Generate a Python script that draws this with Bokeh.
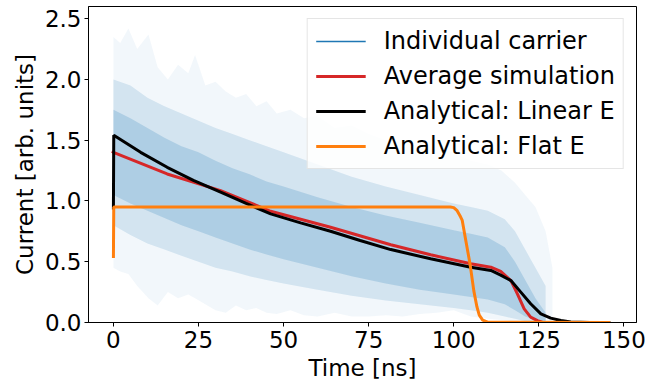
from bokeh.plotting import figure
from bokeh.models import Legend, LegendItem, Range1d, FixedTicker, NumeralTickFormatter
from bokeh.embed import file_html
from bokeh.resources import INLINE

# ---------------- data ----------------
# Spread of the individual carrier traces (envelopes)
cloud_t = [0, 2, 4.4, 7, 10.3, 13, 16, 19, 22, 24, 27, 30, 33, 36, 39, 42, 45, 48, 52,
           56, 60, 65, 70, 75, 80, 85, 90, 95, 100, 105, 110, 114, 118, 121, 124, 127, 129]
outer_hi = [2.35, 2.3, 2.42, 2.25, 2.37, 2.1, 2.0, 2.12, 2.05, 2.2, 1.95, 1.98, 1.9, 1.85, 1.88, 1.78, 1.82,
            1.72, 1.75, 1.68, 1.7, 1.6, 1.62, 1.55, 1.5, 1.48, 1.45, 1.42, 1.4, 1.33, 1.3, 1.25, 1.15,
            1.05, 0.95, 0.75, 0.45]
outer_lo = [0.45, 0.42, 0.4, 0.3, 0.2, 0.14, 0.25, 0.2, 0.23, 0.2, 0.15, 0.1, 0.08, 0.14, 0.1, 0.12, 0.08,
            0.07, 0.1, 0.06, 0.05, 0.08, 0.05, 0.05, 0.06, 0.05, 0.07, 0.08, 0.1, 0.05, 0.03, 0.02,
            0.01, 0.0, 0.0, 0.0, 0.0]
mid_t = [0, 5, 10, 15, 20, 25, 30, 35, 40, 45, 50, 60, 70, 80, 90, 100, 105, 110, 115, 118, 121, 124, 127]
mid_hi = [2.0, 1.95, 1.85, 1.78, 1.72, 1.66, 1.6, 1.55, 1.5, 1.45, 1.4, 1.3, 1.2, 1.12, 1.05, 0.98,
          0.95, 0.92, 0.85, 0.75, 0.6, 0.45, 0.3]
mid_lo = [0.8, 0.72, 0.65, 0.6, 0.55, 0.5, 0.45, 0.42, 0.38, 0.35, 0.32, 0.27, 0.22, 0.18, 0.15, 0.12,
          0.1, 0.08, 0.05, 0.03, 0.01, 0.0, 0.0]
core_hi = [1.75, 1.68, 1.6, 1.52, 1.45, 1.4, 1.33, 1.27, 1.22, 1.16, 1.12, 1.03, 0.95, 0.88, 0.82,
           0.76, 0.73, 0.7, 0.62, 0.5, 0.35, 0.2, 0.08]
core_lo = [1.05, 0.98, 0.92, 0.86, 0.8, 0.75, 0.7, 0.65, 0.6, 0.56, 0.52, 0.45, 0.38, 0.32, 0.27,
           0.23, 0.21, 0.19, 0.15, 0.1, 0.05, 0.02, 0.0]

# Average simulation
avg_t = [-0.4, 0, 15.8, 31.5, 46.2, 63.8, 81.5, 93.2, 105, 110.9, 113.8, 116.8, 118.7, 120.7,
         122.6, 124.6, 126, 128]
avg_i = [1.41, 1.40, 1.222, 1.085, 0.915, 0.784, 0.64, 0.557, 0.483, 0.455, 0.42, 0.345, 0.236,
         0.112, 0.044, 0.016, 0.003, 0.0]

# Analytical: Linear E
lin_t = [0, 0.1, 8, 15.8, 23.5, 31.5, 39, 46.2, 55, 63.8, 72.5, 81.5, 93.2, 105, 110.9, 113.8,
         116.8, 119.7, 122.6, 125.6, 128.5, 131.5, 134.4, 140, 146]
lin_i = [0.93, 1.54, 1.40, 1.277, 1.17, 1.072, 0.98, 0.894, 0.82, 0.751, 0.675, 0.60, 0.524, 0.455,
         0.428, 0.39, 0.345, 0.25, 0.154, 0.071, 0.036, 0.016, 0.005, 0.001, 0.0]

# Analytical: Flat E
flat_t = [0, 0.1, 99, 100, 101, 102, 102.5, 103.5, 104.8, 105.9, 106.8, 107.5, 108.5, 110, 146]
flat_i = [0.53, 0.95, 0.95, 0.945, 0.92, 0.87, 0.84, 0.68, 0.48, 0.26, 0.13, 0.06, 0.02, 0.003, 0.0]

x_ticks = [0, 25, 50, 75, 100, 125, 150]
y_ticks = [0.0, 0.5, 1.0, 1.5, 2.0, 2.5]

FONT = "DejaVu Sans"
BLUE = "#1f77b4"
NAN = float("nan")

p = figure(width=670, height=386, x_range=Range1d(-7.32, 153.7), y_range=Range1d(0, 2.6),
           output_backend="svg", toolbar_location=None,
           min_border_left=88, min_border_right=34, min_border_top=6, min_border_bottom=64)
p.grid.visible = False
p.outline_line_color = "black"
p.outline_line_alpha = 1
p.outline_line_width = 1
p.background_fill_color = "white"

# cloud of individual carriers
p.varea(x=cloud_t, y1=outer_lo, y2=outer_hi, fill_color=BLUE, fill_alpha=0.06)
p.varea(x=mid_t, y1=mid_lo, y2=mid_hi, fill_color=BLUE, fill_alpha=0.15)
p.varea(x=mid_t, y1=core_lo, y2=core_hi, fill_color=BLUE, fill_alpha=0.2)
r_ind = p.line(x=[NAN, NAN], y=[NAN, NAN], line_color=BLUE, line_width=1.5)

r_avg = p.line(x=avg_t, y=avg_i, line_color="#d62728", line_width=3)
r_lin = p.line(x=lin_t, y=lin_i, line_color="black", line_width=3)
r_flat = p.line(x=flat_t, y=flat_i, line_color="#ff7f0e", line_width=3)

for ax in (p.xaxis[0], p.yaxis[0]):
    ax.axis_line_color = "black"
    ax.major_tick_line_color = "black"
    ax.major_tick_out = 4
    ax.major_tick_in = 0
    ax.minor_tick_line_color = None
    ax.major_label_text_font = FONT
    ax.major_label_text_font_size = "23px"
    ax.major_label_text_color = "black"
    ax.axis_label_text_font = FONT
    ax.axis_label_text_font_size = "23px"
    ax.axis_label_text_font_style = "normal"
    ax.axis_label_text_color = "black"

p.xaxis.ticker = FixedTicker(ticks=x_ticks)
p.yaxis.ticker = FixedTicker(ticks=y_ticks)
p.yaxis.formatter = NumeralTickFormatter(format="0.0")
p.xaxis.axis_label = "Time [ns]"
p.yaxis.axis_label = "Current [arb. units]"
p.xaxis.major_label_standoff = 4
p.yaxis.major_label_standoff = 3
p.xaxis.axis_label_standoff = 4
p.yaxis.axis_label_standoff = 4

legend = Legend(items=[
    LegendItem(label="Individual carrier", renderers=[r_ind]),
    LegendItem(label="Average simulation", renderers=[r_avg]),
    LegendItem(label="Analytical: Linear E", renderers=[r_lin]),
    LegendItem(label="Analytical: Flat E", renderers=[r_flat]),
], location="top_right")
legend.label_text_font = FONT
legend.label_text_font_size = "24px"
legend.label_text_color = "black"
legend.glyph_width = 50
legend.glyph_height = 24
legend.label_height = 24
legend.label_standoff = 18
legend.spacing = 7
legend.padding = 8
legend.margin = 12
legend.border_line_color = "#cccccc"
legend.border_line_width = 1
legend.background_fill_alpha = 0.8
p.add_layout(legend)

open("out.html", "w").write(file_html(p, INLINE))
